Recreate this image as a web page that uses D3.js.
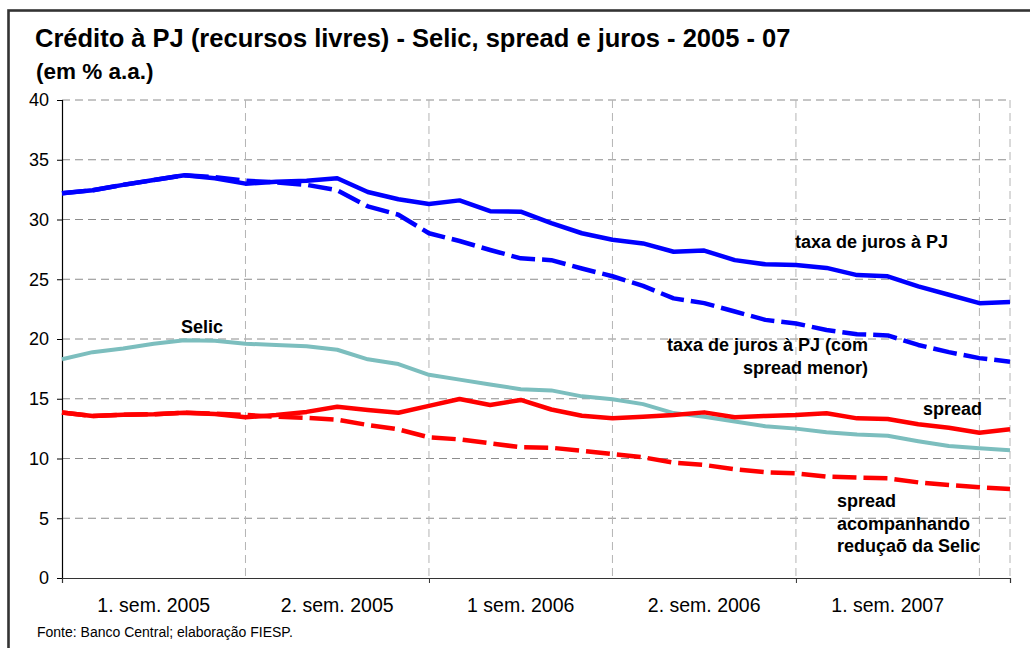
<!DOCTYPE html>
<html>
<head>
<meta charset="utf-8">
<script src="https://cdn.jsdelivr.net/npm/d3@7"></script>
<style>
  body { margin: 0; background: #fff; }
  svg { display: block; font-family: Arial, "Liberation Sans", sans-serif; }
</style>
</head>
<body>
<svg id="chart" width="1030" height="648"></svg>
<script>
// monthly points, Jan 2005 - Aug 2007
const months = d3.range(32)

const taxaJuros = [32.2, 32.45, 32.9, 33.3, 33.7, 33.45, 33.0, 33.15, 33.25, 33.45,
  32.3, 31.7, 31.3, 31.6, 30.7, 30.65, 29.7, 28.85, 28.3, 28.0,
  27.3, 27.4, 26.6, 26.25, 26.2, 25.95, 25.35, 25.25, 24.4, 23.7, 23.0, 23.1]

const taxaJurosMenor = [32.2, 32.45, 32.9, 33.3, 33.7, 33.55, 33.25, 33.1, 32.9, 32.45,
  31.1, 30.4, 28.85, 28.2, 27.45, 26.75, 26.6, 25.9, 25.25, 24.45,
  23.4, 23.0, 22.3, 21.6, 21.3, 20.75, 20.4, 20.3, 19.5, 18.9, 18.4, 18.1]

const selic = [18.3, 18.9, 19.2, 19.6, 19.9, 19.85, 19.6, 19.5, 19.4, 19.1,
  18.3, 17.9, 17.0, 16.6, 16.2, 15.8, 15.7, 15.2, 14.95, 14.55,
  13.8, 13.5, 13.1, 12.7, 12.5, 12.2, 12.0, 11.9, 11.45, 11.05, 10.85, 10.7]

const spread = [13.85, 13.55, 13.67, 13.7, 13.83, 13.72, 13.45, 13.64, 13.9, 14.33,
  14.06, 13.83, 14.4, 14.98, 14.48, 14.9, 14.1, 13.58, 13.36, 13.5,
  13.64, 13.86, 13.45, 13.56, 13.64, 13.78, 13.36, 13.3, 12.86, 12.58, 12.16, 12.44]

const spreadSelic = [13.85, 13.55, 13.67, 13.7, 13.83, 13.75, 13.64, 13.5, 13.4, 13.25,
  12.8, 12.44, 11.77, 11.6, 11.27, 10.94, 10.9, 10.65, 10.38, 10.1,
  9.65, 9.46, 9.1, 8.85, 8.76, 8.48, 8.4, 8.34, 8.0, 7.78, 7.59, 7.45]

const yTicks = [0, 5, 10, 15, 20, 25, 30, 35, 40]
const semLabels = ['1. sem. 2005', '2. sem. 2005', '1 sem. 2006', '2. sem. 2006', '1. sem. 2007']

const svg = d3.select('#chart')

// frame
svg.append('rect')
  .attr('x', 8.5).attr('y', 10.5)
  .attr('width', 1040).attr('height', 660)
  .style('fill', 'none')
  .style('stroke', '#333')
  .style('stroke-width', 2.6)

// titles
svg.append('text')
  .attr('x', 35).attr('y', 47)
  .style('font-size', '25.5px').style('font-weight', 'bold')
  .text('Crédito à PJ (recursos livres) - Selic, spread e juros - 2005 - 07')
svg.append('text')
  .attr('x', 36).attr('y', 79)
  .style('font-size', '22.5px').style('font-weight', 'bold')
  .text('(em % a.a.)')

const xScale = d3.scaleLinear().domain([0, 31]).range([62, 1010])
const yScale = d3.scaleLinear().domain([0, 40]).range([578, 100])

// horizontal grid
svg.append('g')
  .selectAll('line')
  .data(yTicks.filter(d => d > 0))
  .enter()
  .append('line')
  .attr('x1', xScale(0)).attr('x2', xScale(31))
  .attr('y1', d => yScale(d)).attr('y2', d => yScale(d))
  .style('stroke', '#8c8c8c')
  .style('stroke-width', 1)
  .style('stroke-dasharray', '8,5')

// vertical grid every 6 months + right edge
svg.append('g')
  .selectAll('line')
  .data([6, 12, 18, 24, 30, 31])
  .enter()
  .append('line')
  .attr('x1', d => xScale(d)).attr('x2', d => xScale(d))
  .attr('y1', yScale(40)).attr('y2', yScale(0))
  .style('stroke', '#b4b4b4')
  .style('stroke-width', 1)
  .style('stroke-dasharray', '8,5')

// y axis
const yAxis = svg.append('g')
  .attr('transform', `translate(${xScale(0)},0)`)
  .call(d3.axisLeft(yScale).tickValues(yTicks).tickSize(5).tickPadding(8))
yAxis.select('.domain').style('stroke', '#000').style('stroke-width', 1.2)
yAxis.selectAll('.tick line').style('stroke', '#000')
yAxis.selectAll('text').style('font-size', '18px').style('fill', '#000')
  .style('font-family', 'Arial, "Liberation Sans", sans-serif')

// x axis
const xAxis = svg.append('g')
  .attr('transform', `translate(0,${yScale(0)})`)
  .call(d3.axisBottom(xScale).tickValues([0, 12, 24]).tickSize(5).tickFormat(''))
xAxis.select('.domain').style('stroke', '#333').style('stroke-width', 1.2)
xAxis.selectAll('.tick line').style('stroke', '#333')

svg.append('g')
  .selectAll('text')
  .data(semLabels)
  .enter()
  .append('text')
  .attr('x', (d, i) => xScale(i * 6 + 3))
  .attr('y', 612)
  .attr('text-anchor', 'middle')
  .style('font-size', '19.5px')
  .text(d => d)

// lines
const line = d3.line()
  .x((d, i) => xScale(months[i]))
  .y(d => yScale(d))

const series = [
  { data: selic, color: '#7cbebe', width: 4, dash: null },
  { data: spreadSelic, color: '#ff0000', width: 4.5, dash: '24,7' },
  { data: spread, color: '#ff0000', width: 4.5, dash: null },
  { data: taxaJurosMenor, color: '#0000ff', width: 4.5, dash: '24,7' },
  { data: taxaJuros, color: '#0000ff', width: 4.5, dash: null }
]

svg.append('g')
  .selectAll('path')
  .data(series)
  .enter()
  .append('path')
  .attr('d', d => line(d.data))
  .style('fill', 'none')
  .style('stroke', d => d.color)
  .style('stroke-width', d => d.width)
  .style('stroke-dasharray', d => d.dash)
  .style('stroke-linejoin', 'round')

// annotations
const notes = [
  { x: 795, y: 248, anchor: 'start', lines: ['taxa de juros à PJ'] },
  { x: 868, y: 351, anchor: 'end', lines: ['taxa de juros à PJ (com', 'spread menor)'] },
  { x: 181, y: 333, anchor: 'start', lines: ['Selic'] },
  { x: 923, y: 415, anchor: 'start', lines: ['spread'] },
  { x: 837, y: 507, anchor: 'start', lines: ['spread', 'acompanhando', 'reduçaõ da Selic'] }
]

notes.forEach(n => {
  const t = svg.append('text')
    .attr('x', n.x).attr('y', n.y)
    .attr('text-anchor', n.anchor)
    .style('font-size', '18px').style('font-weight', 'bold')
  n.lines.forEach((s, i) => {
    t.append('tspan')
      .attr('x', n.x)
      .attr('dy', i === 0 ? 0 : 22.5)
      .text(s)
  })
})

// source
svg.append('text')
  .attr('x', 37).attr('y', 637)
  .style('font-size', '14px')
  .text('Fonte: Banco Central; elaboração FIESP.')
</script>
</body>
</html>
